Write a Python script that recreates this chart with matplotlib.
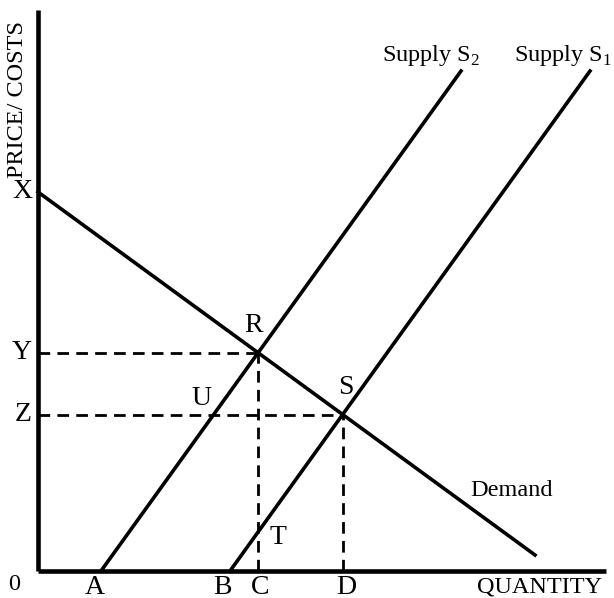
import numpy as np
import matplotlib
matplotlib.use("Agg")
import matplotlib.pyplot as plt

plt.rcParams['font.family'] = ['Liberation Serif', 'DejaVu Serif']
plt.rcParams['mathtext.fontset'] = 'custom'
plt.rcParams['mathtext.rm'] = 'Liberation Serif'

# line endpoints (quantity, price)
demand_x = [0, 497]
demand_y = [379, 16]
s2_x = [63, 423]
s2_y = [0, 500]
s1_x = [192, 552]
s1_y = [0, 500]

axis_len_x = 568
axis_len_y = 561


def intersect(ax_, ay_, bx_, by_):
    m1 = (ay_[1] - ay_[0]) / (ax_[1] - ax_[0])
    m2 = (by_[1] - by_[0]) / (bx_[1] - bx_[0])
    x = (by_[0] - ay_[0] + m1 * ax_[0] - m2 * bx_[0]) / (m1 - m2)
    return x, ay_[0] + m1 * (x - ax_[0])


R = intersect(demand_x, demand_y, s2_x, s2_y)
S = intersect(demand_x, demand_y, s1_x, s1_y)
# T: S1 at quantity C, U: S2 at price Z
m1 = (s1_y[1] - s1_y[0]) / (s1_x[1] - s1_x[0])
m2 = (s2_y[1] - s2_y[0]) / (s2_x[1] - s2_x[0])
T = (R[0], m1 * (R[0] - s1_x[0]))
U = (s2_x[0] + S[1] / m2, S[1])

fig = plt.figure(figsize=(6.14, 5.98), dpi=100)
ax = fig.add_axes([0, 0, 1, 1])
ax.set_xlim(-38, 576)
ax.set_ylim(-27, 571)
ax.axis('off')

lw = 2.6
ax.plot([0, 0], [0, axis_len_y], color='black', lw=3.3, solid_capstyle='butt')
ax.plot([0, axis_len_x], [0, 0], color='black', lw=3.3, solid_capstyle='butt')

ax.plot(demand_x, demand_y, color='black', lw=lw)
ax.plot(s2_x, s2_y, color='black', lw=lw)
ax.plot(s1_x, s1_y, color='black', lw=lw)

dash = dict(color='black', lw=2.0, dashes=(4.2, 2.6))
ax.plot([0, R[0]], [R[1], R[1]], **dash)
ax.plot([R[0], R[0]], [0, R[1]], **dash)
ax.plot([0, S[0]], [S[1], S[1]], **dash)
ax.plot([S[0], S[0]], [0, S[1]], **dash)

fs = 20
ls = 17.5
ax.text(-6, demand_y[0], 'X', fontsize=fs, ha='right', va='center')
ax.text(-6, R[1], 'Y', fontsize=fs, ha='right', va='center')
ax.text(-6, S[1], 'Z', fontsize=fs, ha='right', va='center')
ax.text(-24, -13, '0', fontsize=ls, ha='center', va='center')
ax.text(s2_x[0] - 6, -16, 'A', fontsize=fs, ha='center', va='center')
ax.text(s1_x[0] - 8, -16, 'B', fontsize=fs, ha='center', va='center')
ax.text(R[0] + 2, -16, 'C', fontsize=fs, ha='center', va='center')
ax.text(S[0] + 4, -16, 'D', fontsize=fs, ha='center', va='center')
ax.text(R[0] - 5, R[1] + 27, 'R', fontsize=fs, ha='center', va='center')
ax.text(S[0] + 3, S[1] + 27, 'S', fontsize=fs, ha='center', va='center')
ax.text(U[0] - 12, U[1] + 16, 'U', fontsize=fs, ha='center', va='center')
ax.text(T[0] + 20, T[1] - 6, 'T', fontsize=fs, ha='center', va='center')

ax.text(474, 81, 'Demand', fontsize=ls, ha='center', va='center')
ax.text(s2_x[1] - 30, s2_y[1] + 16, r'Supply S$_\mathrm{2}$', fontsize=ls,
        ha='center', va='center')
ax.text(s1_x[1] - 27, s1_y[1] + 16, r'Supply S$_\mathrm{1}$', fontsize=ls,
        ha='center', va='center')
ax.text(502, -16, 'QUANTITY', fontsize=ls, ha='center', va='center')
ax.text(-20, 471, 'PRICE/ COSTS', fontsize=ls, ha='center', va='center',
        rotation=90)

fig.savefig('out.png', dpi=100)
